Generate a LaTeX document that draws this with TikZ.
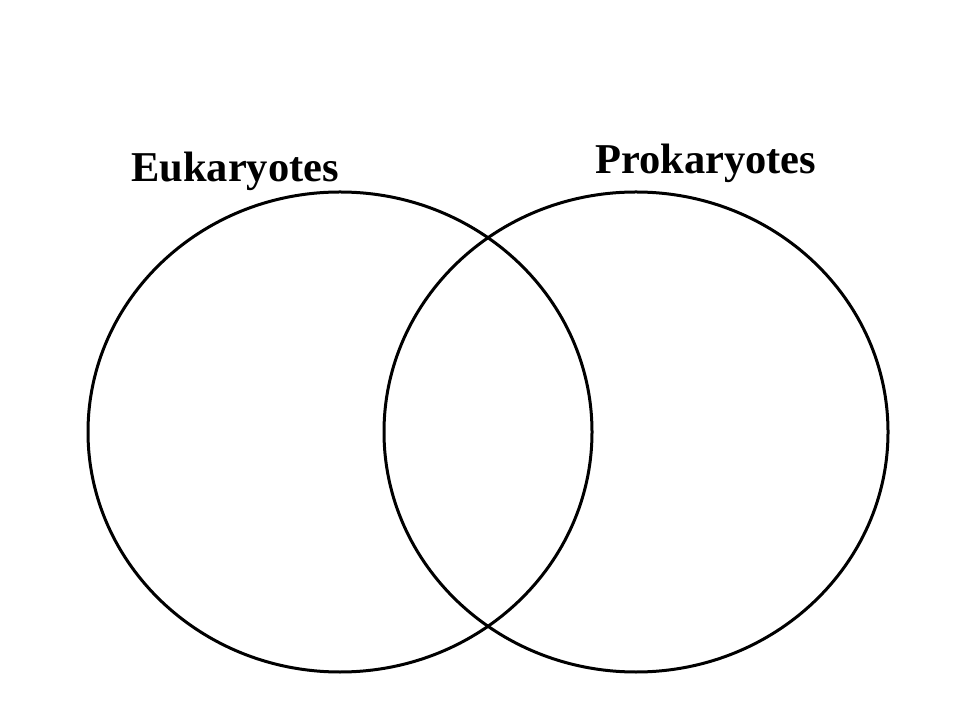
\documentclass[tikz,border=0pt]{standalone}
\usepackage{fontspec}
\setmainfont{Liberation Serif}
\begin{document}
\begin{tikzpicture}[x=1pt,y=1pt,
  ring/.style={draw=black,line width=3pt},
  lbl/.style={font=\fontsize{42.5}{48}\selectfont\bfseries,anchor=base west,inner sep=0pt}]
\useasboundingbox (0,0) rectangle (960,720);
\draw[ring] (340,288) ellipse [x radius=252, y radius=240];
\draw[ring] (636,288) ellipse [x radius=252, y radius=240];
\node[lbl] (euk) at (131,538) {Eukaryotes};
\node[lbl] (pro) at (595,546) {Prokaryotes};
\end{tikzpicture}
\end{document}
